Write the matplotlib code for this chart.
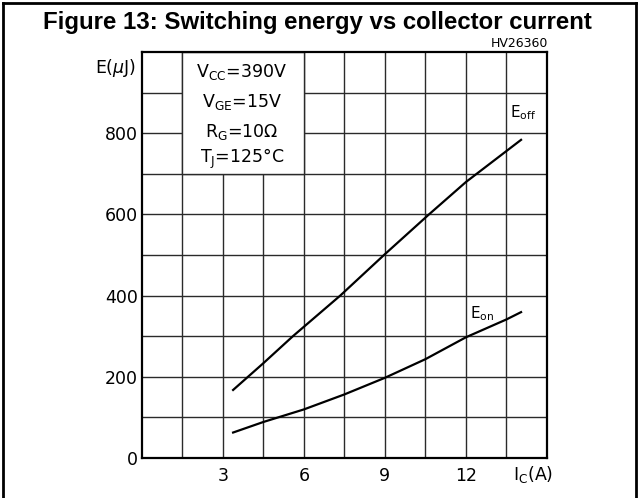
import numpy as np
import matplotlib
matplotlib.use("Agg")
import matplotlib.pyplot as plt
from matplotlib.patches import Rectangle
from matplotlib.lines import Line2D

# values
ic_off = [3.38, 4.5, 5.6, 7.35, 9.0, 10.63, 12.0, 14.04]
e_off = [167, 233, 300, 400, 502, 600, 680, 784]
ic_on = [3.38, 4.5, 6.0, 7.5, 9.0, 10.5, 12.0, 13.5, 14.04]
e_on = [62, 88, 119, 156, 197, 243, 297, 341, 359]

xticks = [3, 6, 9, 12]
yticks = [0, 200, 400, 600, 800]
cond_lines = [r"V$_{\rm CC}$=390V", r"V$_{\rm GE}$=15V",
              r"R$_{\rm G}$=10$\Omega$", r"T$_{\rm J}$=125°C"]
cond_y = [952, 878, 804, 737]

fig = plt.figure(figsize=(6.39, 4.98), dpi=100)
ax = fig.add_axes([0.2219, 0.081, 0.856 - 0.2219, 0.895 - 0.081])

ax.set_xlim(0, 15)
ax.set_ylim(0, 1000)
for xv in np.arange(1.5, 15, 1.5):
    ax.axvline(xv, color="#2a2a2a", lw=1.0, zorder=1)
for yv in np.arange(100, 1000, 100):
    ax.axhline(yv, color="#2a2a2a", lw=1.0, zorder=1)

# white box hiding the grid behind the conditions text
ax.add_patch(Rectangle((1.5, 700), 4.5, 300, facecolor="white",
                       edgecolor="#2a2a2a", lw=1.0, zorder=2))
for t, yv in zip(cond_lines, cond_y):
    ax.text(3.7, yv, t, fontsize=12.5, ha="center", va="center", zorder=3)

ax.plot(ic_off, e_off, color="black", lw=1.6, zorder=4)
ax.plot(ic_on, e_on, color="black", lw=1.6, zorder=4)
ax.text(13.62, 851, r"E$_{\rm off}$", fontsize=11, ha="left", va="center")
ax.text(12.15, 356, r"E$_{\rm on}$", fontsize=11, ha="left", va="center")

ax.set_xticks(xticks)
ax.set_yticks(yticks)
ax.tick_params(length=0, labelsize=12.5)
ax.tick_params(axis="x", pad=7)
ax.tick_params(axis="y", pad=3)
for s in ax.spines.values():
    s.set_linewidth(1.6)

ax.text(-0.2, 962, r"E($\mu$J)", fontsize=12.5, ha="right", va="center",
        clip_on=False)
ax.text(14.5, -41, r"I$_{\rm C}$(A)", fontsize=12.5, ha="center", va="center",
        clip_on=False)

fig.text(0.496, 0.941, "Figure 13: Switching energy vs collector current",
         fontsize=17.3, fontweight="bold", family="Liberation Sans",
         ha="center", va="baseline")
fig.text(0.858, 0.905, "HV26360", fontsize=9, ha="right", va="baseline")

# outer frame
for xs, ys in [([0.005, 0.005], [0, 0.993]), ([0.996, 0.996], [0, 0.993]),
               ([0.005, 0.996], [0.993, 0.993])]:
    fig.add_artist(Line2D(xs, ys, transform=fig.transFigure,
                          color="black", lw=2))

fig.savefig("out.png", dpi=100)
